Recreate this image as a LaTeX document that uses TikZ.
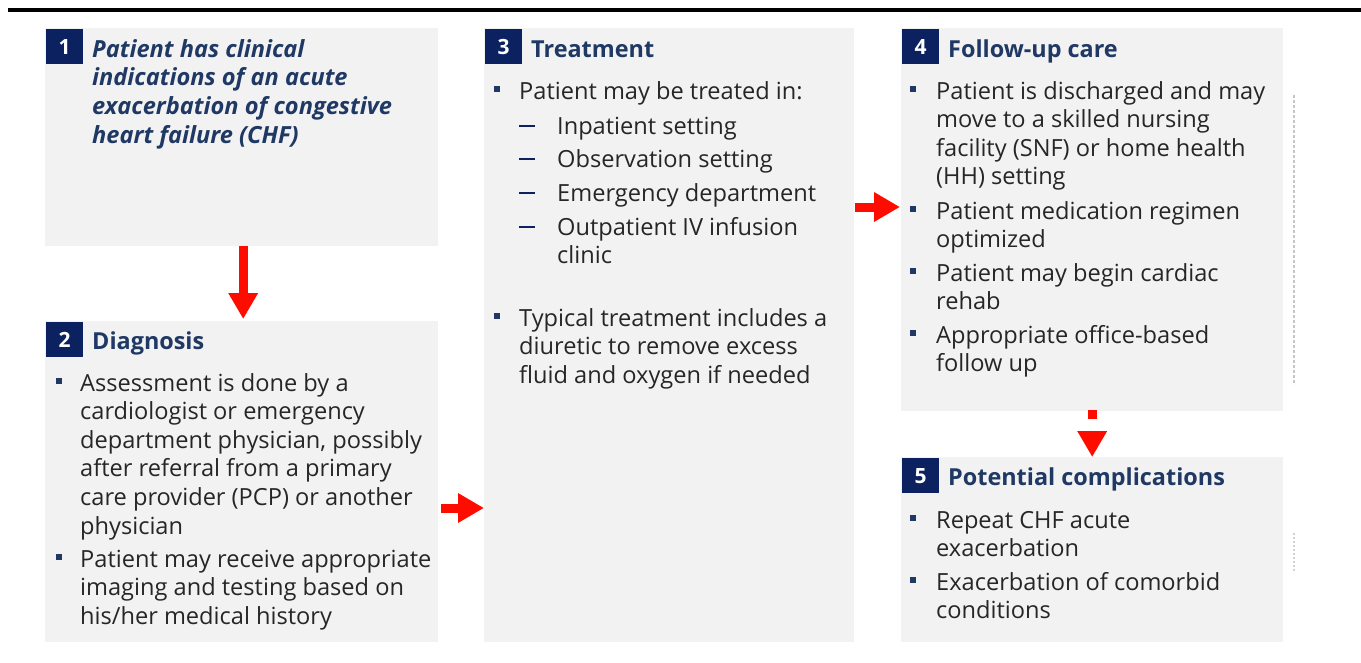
\documentclass[tikz,border=0pt]{standalone}
\usepackage{fontspec}
\setmainfont{Open Sans}
\usetikzlibrary{arrows.meta}
\definecolor{navy}{RGB}{12,33,96}
\definecolor{titleblue}{RGB}{31,56,100}
\definecolor{bodygray}{RGB}{38,38,38}
\definecolor{boxgray}{RGB}{242,242,242}
\definecolor{bulletblue}{RGB}{31,56,100}
\definecolor{arrowred}{RGB}{255,12,0}
\newcommand\mylines[1]{\parbox[t]{16cm}{\raggedright #1}}
\tikzset{
  box/.style={fill=boxgray, inner sep=0, anchor=north west},
  num/.style={fill=navy, text=white, font=\bfseries\fontsize{21}{21}\selectfont, minimum width=37pt, minimum height=35pt, inner sep=0, anchor=north west},
  title/.style={text=titleblue, font=\bfseries\fontsize{23.4}{28.6}\selectfont, anchor=base west, inner sep=0},
  ititle/.style={text=titleblue, font=\bfseries\itshape\fontsize{23.6}{28.7}\selectfont, anchor=base west, inner sep=0},
  body/.style={text=bodygray, font=\fontsize{23.6}{28.6}\selectfont, anchor=base west, inner sep=0},
  bul/.style={fill=bulletblue, minimum size=6pt, inner sep=0},
  subdash/.style={draw=navy, line width=2.5pt},
  redarrow/.style={draw=arrowred, line width=9pt, -{Triangle[length=26pt,width=28pt]}},
}
\begin{document}
\begin{tikzpicture}[x=1pt,y=-1pt]
\useasboundingbox (0,0) rectangle (1361,662);
\draw[line width=4pt] (8,10) -- (1361,10);
% boxes
\node[box, minimum width=393pt, minimum height=218pt] (b1) at (45,28) {};
\node[box, minimum width=393pt, minimum height=321pt] (b2) at (45,321) {};
\node[box, minimum width=370pt, minimum height=614pt] (b3) at (484,28) {};
\node[box, minimum width=382pt, minimum height=383pt] (b4) at (901,28) {};
\node[box, minimum width=382pt, minimum height=185pt] (b5) at (901,457) {};
% numbers
\node[num] (n1) at (46,29) {1};
\node[num] (n2) at (46,322) {2};
\node[num] (n3) at (485,29) {3};
\node[num] (n4) at (902,29) {4};
\node[num] (n5) at (902,458) {5};
% box 1
\node[ititle] (t1) at (92,57) {\mylines{Patient has clinical\\indications of an acute\\exacerbation of congestive\\heart failure (CHF)}};
% box 2
\node[title] (t2) at (92,349) {Diagnosis};
\node[bul] (d1b) at (58.5,381) {};
\node[body] (d1) at (80,391) {\mylines{Assessment is done by a\\cardiologist or emergency\\department physician, possibly\\after referral from a primary\\care provider (PCP) or another\\physician}};
\node[bul] (d2b) at (58.5,557) {};
\node[body] (d2) at (80,567) {\mylines{Patient may receive appropriate\\imaging and testing based on\\his/her medical history}};
% box 3
\node[title] (t3) at (531,57) {Treatment};
\node[bul] (tr1b) at (496.5,89) {};
\node[body] (tr1) at (519,99) {Patient may be treated in:};
\draw[subdash] (519,126) -- (535,126);
\node[body] (s1) at (557,134) {Inpatient setting};
\draw[subdash] (519,159) -- (535,159);
\node[body] (s2) at (557,167) {Observation setting};
\draw[subdash] (519,193) -- (535,193);
\node[body] (s3) at (557,201) {Emergency department};
\draw[subdash] (519,227) -- (535,227);
\node[body] (s4) at (557,235) {\mylines{Outpatient IV infusion\\clinic}};
\node[bul] (tr2b) at (496.5,316) {};
\node[body] (tr2) at (519,326) {\mylines{Typical treatment includes a\\diuretic to remove excess\\fluid and oxygen if needed}};
% box 4
\node[title] (t4) at (948,57) {Follow-up care};
\node[bul] (f1b) at (912.5,89) {};
\node[body] (f1) at (936,99) {\mylines{Patient is discharged and may\\move to a skilled nursing\\facility (SNF) or home health\\(HH) setting}};
\node[bul] (f2b) at (912.5,209) {};
\node[body] (f2) at (936,219) {\mylines{Patient medication regimen\\optimized}};
\node[bul] (f3b) at (912.5,271) {};
\node[body] (f3) at (936,281) {\mylines{Patient may begin cardiac\\rehab}};
\node[bul] (f4b) at (912.5,333) {};
\node[body] (f4) at (936,343) {\mylines{Appropriate office-based\\follow up}};
% box 5
\node[title] (t5) at (948,485) {Potential complications};
\node[bul] (p1b) at (912.5,518) {};
\node[body] (p1) at (936,528) {\mylines{Repeat CHF acute\\exacerbation}};
\node[bul] (p2b) at (912.5,580) {};
\node[body] (p2) at (936,590) {\mylines{Exacerbation of comorbid\\conditions}};
% arrows
\draw[redarrow] ([xshift=1.5pt]b1.south) -- ([xshift=1.5pt,yshift=2pt]b2.north);
\draw[redarrow] ([xshift=3pt]b2.east |- 0,508) -- (b3.west |- 0,508);
\draw[redarrow] ([xshift=1pt]b3.east |- 0,207) -- ([xshift=-1pt]b4.west |- 0,207);
\draw[redarrow, dash pattern=on 9pt off 30pt] ([yshift=1pt]b4.south) -- (b5.north);
% faint marks
\draw[gray!45, line width=1.5pt, dash pattern=on 3pt off 2pt] (1294,95) -- (1294,385);
\draw[gray!35, line width=1.5pt, dash pattern=on 2pt off 2pt] (1294,533) -- (1294,573);
\end{tikzpicture}
\end{document}
